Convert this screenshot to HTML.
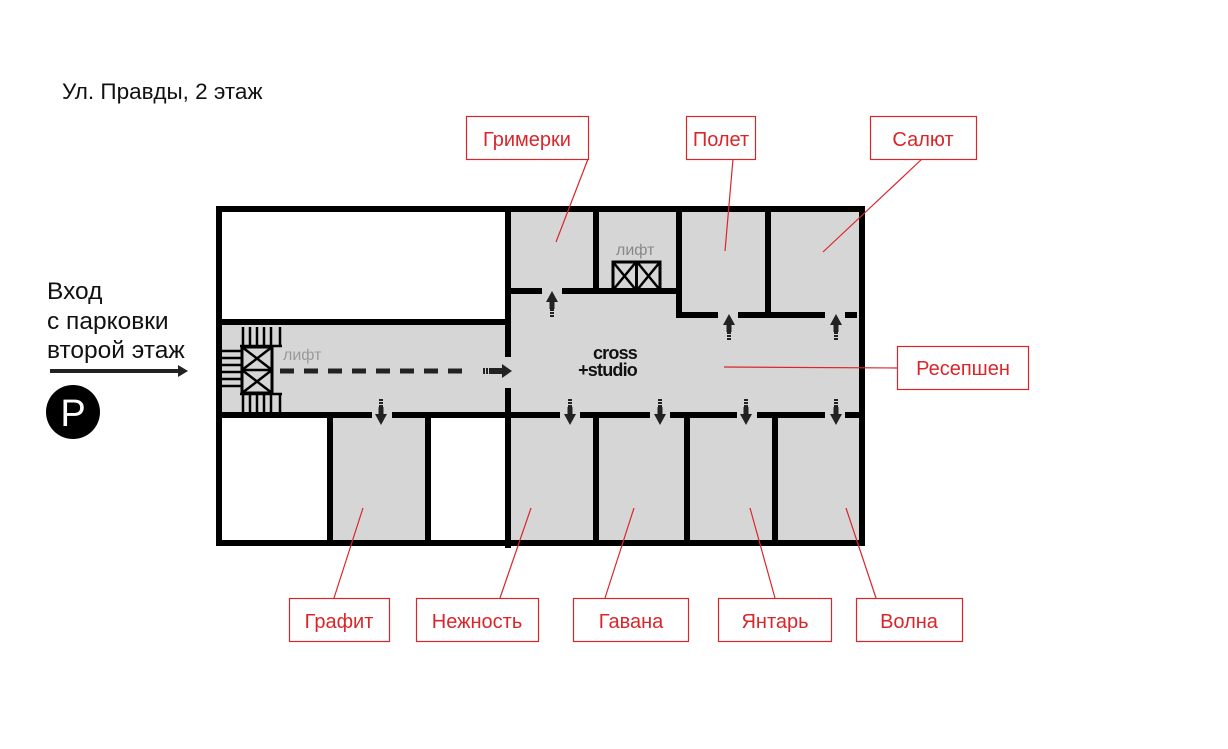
<!DOCTYPE html>
<html><head><meta charset="utf-8"><style>
html,body{margin:0;padding:0;background:#fff;}
svg{display:block;font-family:"Liberation Sans",sans-serif;}
</style></head><body>
<svg width="1228" height="749" viewBox="0 0 1228 749" xmlns="http://www.w3.org/2000/svg">
<defs>
<g id="au"><rect x="-2" y="13" width="4" height="2" fill="#222"/><rect x="-2" y="16" width="4" height="2" fill="#222"/><rect x="-2" y="19" width="4" height="2" fill="#222"/><rect x="-2.5" y="5" width="5" height="8" fill="#222"/><polygon points="-6,6 6,6 0,-5" fill="#222"/></g>
</defs>
<text x="62" y="99" font-size="22.5" fill="#111">Ул. Правды, 2 этаж</text>
<text x="47" y="299" font-size="24.5" fill="#111">Вход</text>
<text x="47" y="329" font-size="24.5" fill="#111">с парковки</text>
<text x="47" y="358" font-size="24.5" fill="#111">второй этаж</text>
<rect x="50" y="369" width="128" height="4" fill="#222"/>
<polygon points="178,365 188,371 178,377" fill="#222"/>
<circle cx="73" cy="412" r="27" fill="#000"/>
<text x="73" y="426" font-size="38" fill="#fff" text-anchor="middle">P</text>

<rect x="219" y="209" width="643" height="334" fill="#d6d6d6"/>
<rect x="222" y="212" width="284" height="108" fill="#fff"/>
<rect x="222" y="417" width="106" height="124" fill="#fff"/>
<rect x="431" y="417" width="75" height="124" fill="#fff"/>

<g fill="#000">
<rect x="216" y="206" width="649" height="6"/>
<rect x="216" y="540" width="649" height="6"/>
<rect x="216" y="206" width="6" height="340"/>
<rect x="859" y="206" width="6" height="340"/>
<rect x="216" y="319" width="292" height="6"/>
<rect x="505" y="206" width="6" height="151"/>
<rect x="505" y="388" width="6" height="160"/>
<rect x="216" y="412" width="156" height="6"/>
<rect x="392" y="412" width="168" height="6"/>
<rect x="580" y="412" width="70" height="6"/>
<rect x="670" y="412" width="67" height="6"/>
<rect x="757" y="412" width="68" height="6"/>
<rect x="845" y="412" width="17" height="6"/>
<rect x="327" y="412" width="6" height="132"/>
<rect x="425" y="412" width="6" height="132"/>
<rect x="593" y="412" width="6" height="132"/>
<rect x="684" y="412" width="6" height="132"/>
<rect x="772" y="412" width="6" height="132"/>
<rect x="508" y="288" width="34" height="6"/>
<rect x="562" y="288" width="116" height="6"/>
<rect x="593" y="206" width="6" height="85"/>
<rect x="676" y="206" width="6" height="112"/>
<rect x="676" y="312" width="42" height="6"/>
<rect x="738" y="312" width="87" height="6"/>
<rect x="845" y="312" width="12" height="6"/>
<rect x="765" y="206" width="6" height="110"/>
</g>
<rect x="613" y="262" width="47" height="28" fill="none" stroke="#000" stroke-width="3"/>
<line x1="636.5" y1="262" x2="636.5" y2="290" stroke="#000" stroke-width="3"/>
<path d="M613 262 L636 290 M636 262 L613 290 M637 262 L660 290 M660 262 L637 290" stroke="#000" stroke-width="2.5"/>
<text x="616" y="255" font-size="16" fill="#888">лифт</text>
<g stroke="#000" stroke-width="2.5">
<line x1="243" y1="327" x2="243" y2="346"/><line x1="250" y1="327" x2="250" y2="346"/><line x1="257" y1="327" x2="257" y2="346"/><line x1="264" y1="327" x2="264" y2="346"/><line x1="271" y1="327" x2="271" y2="346"/><line x1="280" y1="327" x2="280" y2="346"/>
<line x1="243" y1="394" x2="243" y2="412"/><line x1="250" y1="394" x2="250" y2="412"/><line x1="257" y1="394" x2="257" y2="412"/><line x1="264" y1="394" x2="264" y2="412"/><line x1="271" y1="394" x2="271" y2="412"/><line x1="280" y1="394" x2="280" y2="412"/>
<line x1="222" y1="351" x2="241" y2="351"/><line x1="222" y1="358" x2="241" y2="358"/><line x1="222" y1="365" x2="241" y2="365"/><line x1="222" y1="372" x2="241" y2="372"/><line x1="222" y1="379" x2="241" y2="379"/><line x1="222" y1="386" x2="241" y2="386"/>
<line x1="240" y1="346" x2="282" y2="346"/><line x1="240" y1="394" x2="282" y2="394"/>
</g>
<rect x="242" y="347" width="30" height="46" fill="none" stroke="#000" stroke-width="3"/>
<line x1="242" y1="370" x2="272" y2="370" stroke="#000" stroke-width="2.5"/>
<path d="M242 347 L272 370 M272 347 L242 370 M242 370 L272 393 M272 370 L242 393" stroke="#000" stroke-width="2.5"/>
<text x="283" y="360" font-size="16" fill="#999">лифт</text>
<line x1="280" y1="371" x2="470" y2="371" stroke="#222" stroke-width="5" stroke-dasharray="14,10"/>
<rect x="483" y="368" width="2" height="6" fill="#222"/><rect x="486" y="368" width="2" height="6" fill="#222"/><rect x="489" y="368" width="14" height="6" fill="#222"/>
<polygon points="502,364 512,371 502,378" fill="#222"/>
<text x="637" y="359" font-size="18" font-weight="bold" text-anchor="end" fill="#111" letter-spacing="-0.8">cross</text>
<text x="637" y="376" font-size="18" font-weight="bold" text-anchor="end" fill="#111" letter-spacing="-0.8">+studio</text>
<use href="#au" x="552" y="296"/>
<use href="#au" x="729" y="319"/>
<use href="#au" x="836" y="319"/>
<use href="#au" transform="translate(381,420) scale(1,-1)"/>
<use href="#au" transform="translate(570,420) scale(1,-1)"/>
<use href="#au" transform="translate(660,420) scale(1,-1)"/>
<use href="#au" transform="translate(746,420) scale(1,-1)"/>
<use href="#au" transform="translate(836,420) scale(1,-1)"/>
<g stroke="#d9262b" stroke-width="1.2">
<line x1="588" y1="159" x2="556" y2="242"/>
<line x1="733" y1="159" x2="725" y2="251"/>
<line x1="922" y1="159" x2="823" y2="252"/>
<line x1="897" y1="368" x2="724" y2="367"/>
<line x1="363" y1="508" x2="334" y2="598"/>
<line x1="531" y1="508" x2="500" y2="598"/>
<line x1="634" y1="508" x2="605" y2="598"/>
<line x1="750" y1="508" x2="775" y2="598"/>
<line x1="846" y1="508" x2="876" y2="598"/>
</g>
<g fill="#fff" stroke="#d9262b" stroke-width="1.2">
<rect x="466.5" y="116.5" width="122" height="43"/>
<rect x="686.5" y="116.5" width="69" height="43"/>
<rect x="870.5" y="116.5" width="106" height="43"/>
<rect x="897.5" y="346.5" width="131" height="43"/>
<rect x="289.5" y="598.5" width="100" height="43"/>
<rect x="416.5" y="598.5" width="122" height="43"/>
<rect x="573.5" y="598.5" width="115" height="43"/>
<rect x="718.5" y="598.5" width="113" height="43"/>
<rect x="856.5" y="598.5" width="106" height="43"/>
</g>
<g fill="#d9262b" font-size="20" text-anchor="middle">
<text x="527" y="146">Гримерки</text>
<text x="721" y="146">Полет</text>
<text x="923" y="146">Салют</text>
<text x="963" y="375">Ресепшен</text>
<text x="339" y="628">Графит</text>
<text x="477" y="628">Нежность</text>
<text x="631" y="628">Гавана</text>
<text x="775" y="628">Янтарь</text>
<text x="909" y="628">Волна</text>
</g>
</svg>
</body></html>
